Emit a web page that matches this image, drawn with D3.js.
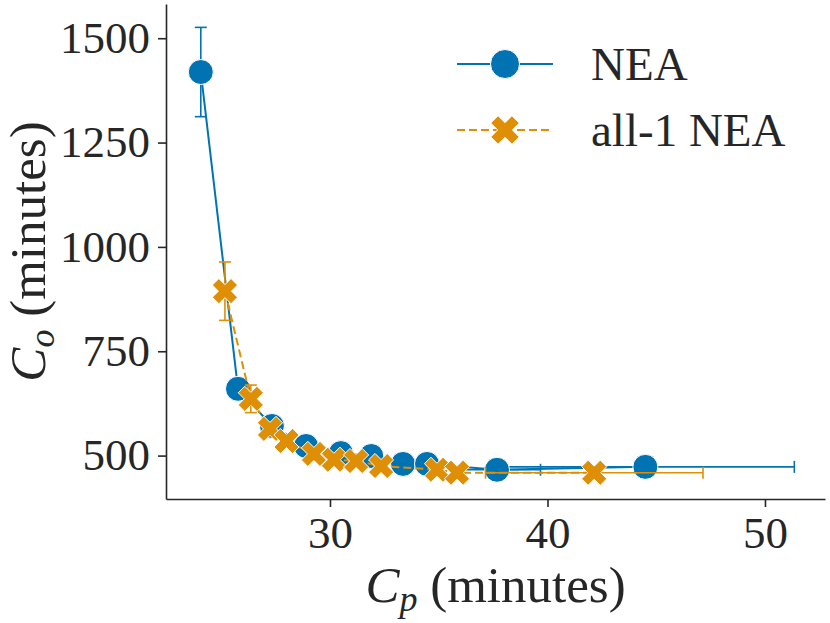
<!DOCTYPE html>
<html>
<head>
<meta charset="utf-8">
<script src="https://cdn.jsdelivr.net/npm/d3@7"></script>
<style>
  html, body { margin: 0; padding: 0; background: #fff; }
  svg { display: block; }
  text { font-family: "Liberation Serif", "DejaVu Serif", serif; fill: #262626; }
</style>
</head>
<body>
<div id="chart"></div>
<script>
// NEA series (Cp, Co, error bars)
const neaCp = [24.06, 25.77, 27.33, 28.9, 30.5, 31.9, 33.36, 34.46, 37.68, 44.5];
const neaCo = [1419, 660, 571, 523, 506, 499, 480, 480, 466, 473];
const neaCoErr = [107, 25, 10, 8, 6, 6, 5, 5, 4, 4];
const neaCpErr = [0, 0, 0, 0, 0, 0, 0, 0, 2.0, 6.85];

// all-1 NEA series
const allCp = [25.17, 26.36, 27.24, 28.0, 29.26, 30.18, 31.2, 32.35, 34.92, 35.84, 42.15];
const allCo = [894, 636, 564, 535, 504, 490, 487, 475, 466, 459, 459];
const allCoErr = [70, 33, 10, 8, 6, 5, 5, 4, 4, 4, 4];
const allCpErr = [0, 0, 0, 0, 0, 0, 0, 0, 0, 0, 5.0];

const xTicks = [30, 40, 50];
const yTicks = [500, 750, 1000, 1250, 1500];
const seriesNames = ['NEA', 'all-1 NEA'];

const W = 830, H = 623;
const margin = { left: 166, right: 5, top: 4, bottom: 124 };
const blue = '#0173b2', orange = '#de8f05', ink = '#262626';

const svg = d3.select('#chart').append('svg')
    .attr('width', W).attr('height', H);

const x = d3.scaleLinear().domain([22.46, 52.76]).range([margin.left, W - margin.right]);
const y = d3.scaleLinear().domain([396, 1582]).range([H - margin.bottom, margin.top]);

// axes
const xAxis = svg.append('g')
    .attr('transform', `translate(0,${H - margin.bottom})`)
    .call(d3.axisBottom(x).tickValues(xTicks).tickFormat(d3.format('d'))
        .tickSize(8).tickPadding(9).tickSizeOuter(0));
const yAxis = svg.append('g')
    .attr('transform', `translate(${margin.left},0)`)
    .call(d3.axisLeft(y).tickValues(yTicks).tickFormat(d3.format('d'))
        .tickSize(8).tickPadding(8).tickSizeOuter(0));

[xAxis, yAxis].forEach(g => {
    g.select('.domain').attr('stroke', ink).attr('stroke-width', 1.6);
    g.selectAll('.tick line').attr('stroke', ink).attr('stroke-width', 1.6);
    g.selectAll('.tick text')
        .attr('font-family', '"Liberation Serif", serif')
        .attr('font-size', 45).attr('fill', ink);
});

// axis labels with italic C and subscript
function mathLabel(g, sub) {
    const t = g.append('text').attr('font-size', 51).attr('text-anchor', 'middle');
    t.append('tspan').attr('font-style', 'italic').text('C');
    t.append('tspan').attr('font-style', 'italic').attr('font-size', 36)
        .attr('dy', 9).text(sub);
    t.append('tspan').attr('dy', -9).text('\u00a0(minutes)');
    return t;
}
mathLabel(svg.append('g').attr('transform', `translate(${(margin.left + W - margin.right) / 2},602)`), 'p');
mathLabel(svg.append('g').attr('transform', `translate(45,${(margin.top + H - margin.bottom) / 2}) rotate(-90)`), 'o');

// X marker (rotated plus)
function xMarkerPath(L, w) {
    const pts = [[w, w], [w, L], [-w, L], [-w, w], [-L, w], [-L, -w], [-w, -w], [-w, -L], [w, -L], [w, -w], [L, -w], [L, w]];
    const c = Math.SQRT1_2;
    return 'M' + pts.map(([a, b]) => [(a - b) * c, (a + b) * c].map(v => v.toFixed(2)).join(',')).join('L') + 'Z';
}
const crossD = xMarkerPath(13.2, 4.6);

function drawSeries(cp, co, coErr, cpErr, color, dash, marker) {
    const pts = cp.map((v, i) => ({ cp: v, co: co[i], ey: coErr[i], ex: cpErr[i] }));
    const g = svg.append('g');
    g.append('path')
        .attr('d', d3.line().x(d => x(d.cp)).y(d => y(d.co))(pts))
        .attr('fill', 'none').attr('stroke', color).attr('stroke-width', 2)
        .attr('stroke-dasharray', dash);

    const cap = 6;
    pts.filter(d => d.ey > 0).forEach(d => {
        const px = x(d.cp), y0 = y(d.co - d.ey), y1 = y(d.co + d.ey);
        g.append('line').attr('x1', px).attr('x2', px).attr('y1', y0).attr('y2', y1)
            .attr('stroke', color).attr('stroke-width', 1.6);
        [y0, y1].forEach(yy => g.append('line').attr('x1', px - cap).attr('x2', px + cap)
            .attr('y1', yy).attr('y2', yy).attr('stroke', color).attr('stroke-width', 1.6));
    });
    pts.filter(d => d.ex > 0).forEach(d => {
        const py = y(d.co), x0 = x(d.cp - d.ex), x1 = x(d.cp + d.ex);
        g.append('line').attr('x1', x0).attr('x2', x1).attr('y1', py).attr('y2', py)
            .attr('stroke', color).attr('stroke-width', 1.6);
        [x0, x1].forEach(xx => g.append('line').attr('x1', xx).attr('x2', xx)
            .attr('y1', py - cap).attr('y2', py + cap).attr('stroke', color).attr('stroke-width', 1.6));
    });

    if (marker === 'circle') {
        g.selectAll('circle').data(pts).join('circle')
            .attr('cx', d => x(d.cp)).attr('cy', d => y(d.co)).attr('r', 12.5)
            .attr('fill', color).attr('stroke', '#fff').attr('stroke-width', 1);
    } else {
        g.selectAll('path.mk').data(pts).join('path').attr('class', 'mk')
            .attr('d', crossD)
            .attr('transform', d => `translate(${x(d.cp)},${y(d.co)})`)
            .attr('fill', color).attr('stroke', '#fff').attr('stroke-width', 1);
    }
}

drawSeries(neaCp, neaCo, neaCoErr, neaCpErr, blue, null, 'circle');
drawSeries(allCp, allCo, allCoErr, allCpErr, orange, '8,4', 'cross');

// legend
const legend = svg.append('g');
const legendRows = [
    { name: seriesNames[0], color: blue, dash: null, marker: 'circle', yy: 64 },
    { name: seriesNames[1], color: orange, dash: '8,4', marker: 'cross', yy: 130 }
];
legendRows.forEach(r => {
    legend.append('line').attr('x1', 457).attr('x2', 553).attr('y1', r.yy).attr('y2', r.yy)
        .attr('stroke', r.color).attr('stroke-width', 2).attr('stroke-dasharray', r.dash);
    if (r.marker === 'circle') {
        legend.append('circle').attr('cx', 505).attr('cy', r.yy).attr('r', 14.5)
            .attr('fill', r.color).attr('stroke', '#fff').attr('stroke-width', 1);
    } else {
        legend.append('path').attr('d', xMarkerPath(15, 5.2))
            .attr('transform', `translate(505,${r.yy})`)
            .attr('fill', r.color).attr('stroke', '#fff').attr('stroke-width', 1);
    }
    legend.append('text').attr('x', 591).attr('y', r.yy + 16)
        .attr('font-size', 47).text(r.name);
});
</script>
</body>
</html>
